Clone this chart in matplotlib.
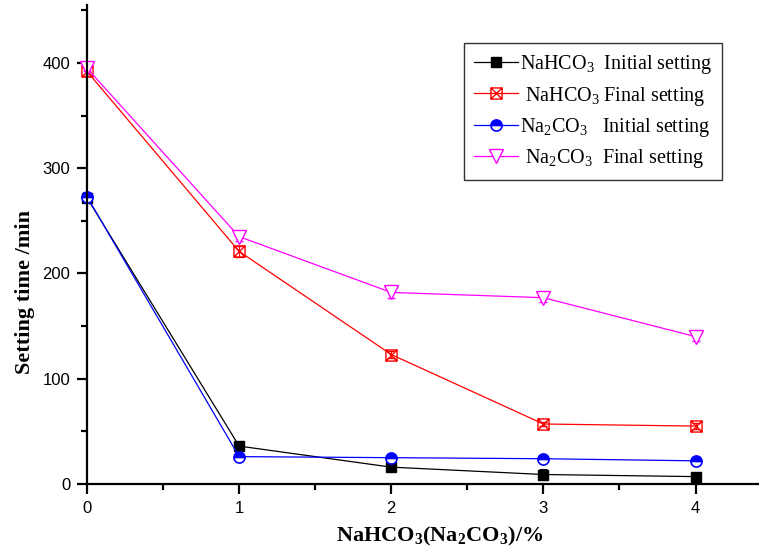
import matplotlib
matplotlib.use("Agg")
import matplotlib.pyplot as plt
from matplotlib.path import Path
from matplotlib.ticker import MultipleLocator

plt.rcParams["mathtext.fontset"] = "custom"
plt.rcParams["mathtext.rm"] = "Liberation Serif"
plt.rcParams["mathtext.bf"] = "Liberation Serif:bold"

dosage = [0, 1, 2, 3, 4]

nahco3_initial = [272, 36, 16, 9, 7]
nahco3_initial_err = [3, 3, 4, 5, 3]
nahco3_final = [392, 221, 123, 57, 55]
nahco3_final_err = [4, 5, 3, 2, 3]
na2co3_initial = [273, 26, 25, 24, 22]
na2co3_initial_err = [3, 3, 3, 2, 2]
na2co3_final = [395, 235, 182, 177, 140]
na2co3_final_err = [3, 4, 5, 4, 4]

labels = [
    r"NaHCO$_{\mathrm{3}}$  Initial setting",
    r" NaHCO$_{\mathrm{3}}$ Final setting",
    r"Na$_{\mathrm{2}}$CO$_{\mathrm{3}}$   Initial setting",
    r" Na$_{\mathrm{2}}$CO$_{\mathrm{3}}$  Final setting",
]

# square with both diagonals drawn in
box_x = Path(
    [(-1, -1), (1, -1), (1, 1), (-1, 1), (-1, -1), (-1, -1), (1, 1), (-1, 1), (1, -1)],
    [Path.MOVETO, Path.LINETO, Path.LINETO, Path.LINETO, Path.CLOSEPOLY,
     Path.MOVETO, Path.LINETO, Path.MOVETO, Path.LINETO],
)

fig = plt.figure(figsize=(7.59, 5.53), dpi=100)
ax = fig.add_axes([0.1146, 0.1248, 0.884, 0.866])

common = dict(linewidth=0.9, capsize=3, elinewidth=0.8, capthick=0.8, clip_on=False)

series = [
    ax.errorbar(dosage, nahco3_initial, yerr=nahco3_initial_err, color="black",
                marker="s", markersize=7, **common),
    ax.errorbar(dosage, nahco3_final, yerr=nahco3_final_err, color="red",
                marker=box_x, markersize=8, markerfacecolor="none",
                markeredgewidth=1.0, **common),
    ax.errorbar(dosage, na2co3_initial, yerr=na2co3_initial_err, color="blue",
                marker="o", markersize=8, fillstyle="top", markerfacecoloralt="white",
                markeredgewidth=1.2, **common),
    ax.errorbar(dosage, na2co3_final, yerr=na2co3_final_err, color="magenta",
                marker="v", markersize=10, markerfacecolor="white",
                markeredgewidth=1.0, **common),
]

ax.set_xlim(0, 4.41)
ax.set_ylim(0, 455)
ax.xaxis.set_major_locator(MultipleLocator(1))
ax.xaxis.set_minor_locator(MultipleLocator(0.5))
ax.yaxis.set_major_locator(MultipleLocator(100))
ax.yaxis.set_minor_locator(MultipleLocator(50))

for side in ("top", "right"):
    ax.spines[side].set_visible(False)
for side in ("left", "bottom"):
    ax.spines[side].set_linewidth(1.6)

ax.tick_params(which="major", direction="out", length=7, width=1.6,
               labelsize=12, pad=5)
ax.tick_params(which="minor", direction="out", length=4, width=1.6)
for lab in ax.get_xticklabels() + ax.get_yticklabels():
    lab.set_family("Liberation Sans")

ax.set_xlabel(r"NaHCO$_{\mathbf{3}}$(Na$_{\mathbf{2}}$CO$_{\mathbf{3}}$)/%",
              family="Liberation Serif", fontsize=16, fontweight="bold")
ax.xaxis.set_label_coords(0.525, -0.086)
ax.set_ylabel("Setting time /min", family="Liberation Serif", fontsize=16,
              fontweight="bold")
ax.yaxis.set_label_coords(-0.078, 0.40)

# legend shows only the line + marker, no error bars
leg = ax.legend([s[0] for s in series], labels,
                loc="upper right", bbox_to_anchor=(0.962, 0.941),
                prop={"family": "Liberation Serif", "size": 14.5},
                frameon=True, fancybox=False, edgecolor="black",
                handlelength=2.2, handletextpad=0.1, borderpad=0.5,
                labelspacing=0.4)
leg.get_frame().set_linewidth(1.0)

fig.savefig("out.png", dpi=100)
